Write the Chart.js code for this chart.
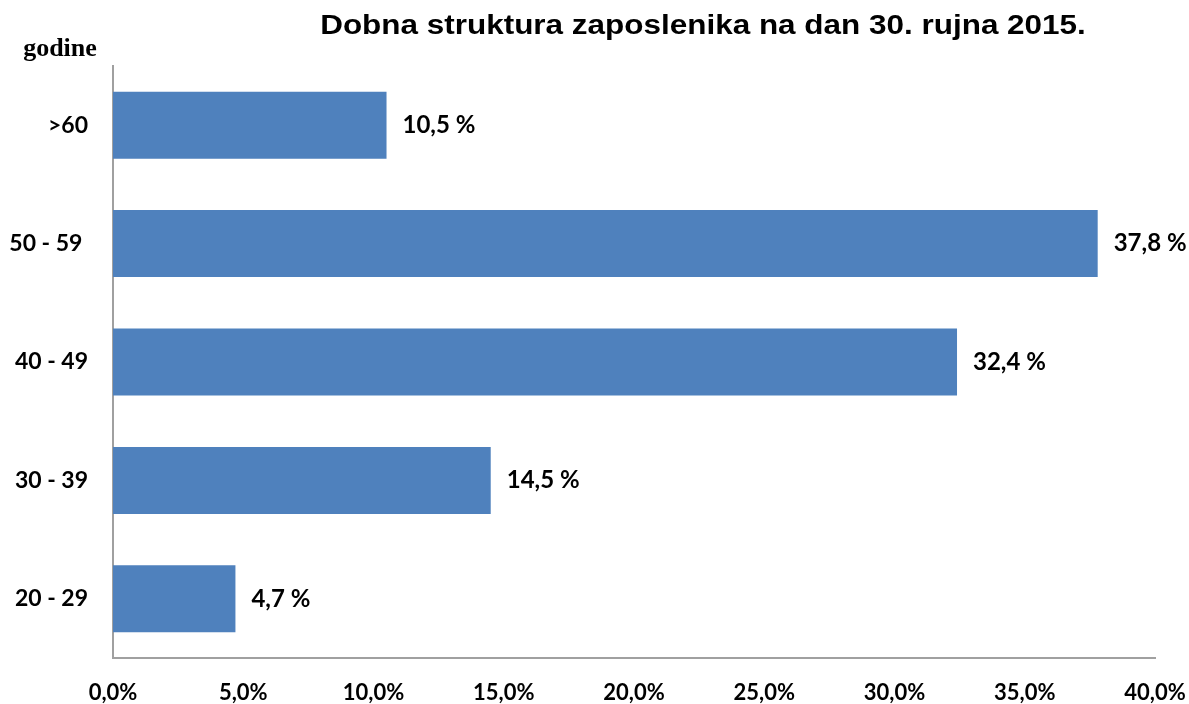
<!DOCTYPE html>
<html><head><meta charset="utf-8">
<script src="https://cdn.jsdelivr.net/npm/chart.js@4"></script>
<style>html,body{margin:0;padding:0;background:#fff}#wrap{width:1189px;height:704px;position:relative}</style>
</head><body><div id="wrap"><canvas id="c" width="1189" height="704"></canvas></div>
<script>
const categories = ['>60', '50 - 59 ', '40 - 49', '30 - 39', '20 - 29'];
const values = [10.5, 37.8, 32.4, 14.5, 4.7];
const dataLabels = ['10,5 %', '37,8 %', '32,4 %', '14,5 %', '4,7 %'];
const xTickMax = 40;
const xTickStep = 5;
const titleText = 'Dobna struktura zaposlenika na dan 30. rujna 2015.';
const yAxisTitle = 'godine';

const LBL = 'Lato';
const extras = {
  id: 'extras',
  afterDatasetsDraw(chart) {
    const ctx = chart.ctx;
    const meta = chart.getDatasetMeta(0);
    ctx.save();
    ctx.fillStyle = '#000';
    ctx.font = 'bold 24px ' + LBL;
    ctx.textAlign = 'left';
    ctx.textBaseline = 'middle';
    meta.data.forEach((bar, i) => {
      ctx.fillText(dataLabels[i], bar.x + 16, bar.y);
    });
    ctx.textBaseline = 'alphabetic';
    ctx.font = 'bold 27px "Liberation Sans"';
    ctx.textAlign = 'center';
    ctx.save();
    ctx.translate(703, 34);
    ctx.scale(1.165, 1);
    ctx.fillText(titleText, 0, 0);
    ctx.restore();
    ctx.font = 'bold 26px "Liberation Serif"';
    ctx.fillText(yAxisTitle, 60, 56);
    ctx.restore();
  }
};

new Chart(document.getElementById('c'), {
  type: 'bar',
  data: { labels: categories, datasets: [{ data: values, backgroundColor: '#4f81bd', borderWidth: 0, barPercentage: 0.566, categoryPercentage: 1 }] },
  options: {
    indexAxis: 'y', responsive: false, animation: false,
    layout: { padding: { top: 66, right: 34, left: 0, bottom: 0 } },
    plugins: { legend: { display: false }, tooltip: { enabled: false }, title: { display: false } },
    scales: {
      x: {
        min: 0, max: xTickMax,
        grid: { display: false, drawTicks: false },
        border: { display: true, color: '#a0a0a0', width: 2 },
        ticks: { stepSize: xTickStep, padding: 22, color: '#000', font: { family: LBL, size: 22, weight: 'bold' },
          callback: v => v.toFixed(1).replace('.', ',') + '%' },
        afterFit(s) { s.height = 46; s.paddingRight = 0; s.paddingLeft = 0; }
      },
      y: {
        grid: { display: false, drawTicks: false },
        border: { display: true, color: '#a0a0a0', width: 2 },
        ticks: { padding: 25, color: '#000', font: { family: LBL, size: 23, weight: 'bold' } },
        afterFit(s) { s.width = 113; }
      }
    }
  },
  plugins: [extras]
});
</script></body></html>
